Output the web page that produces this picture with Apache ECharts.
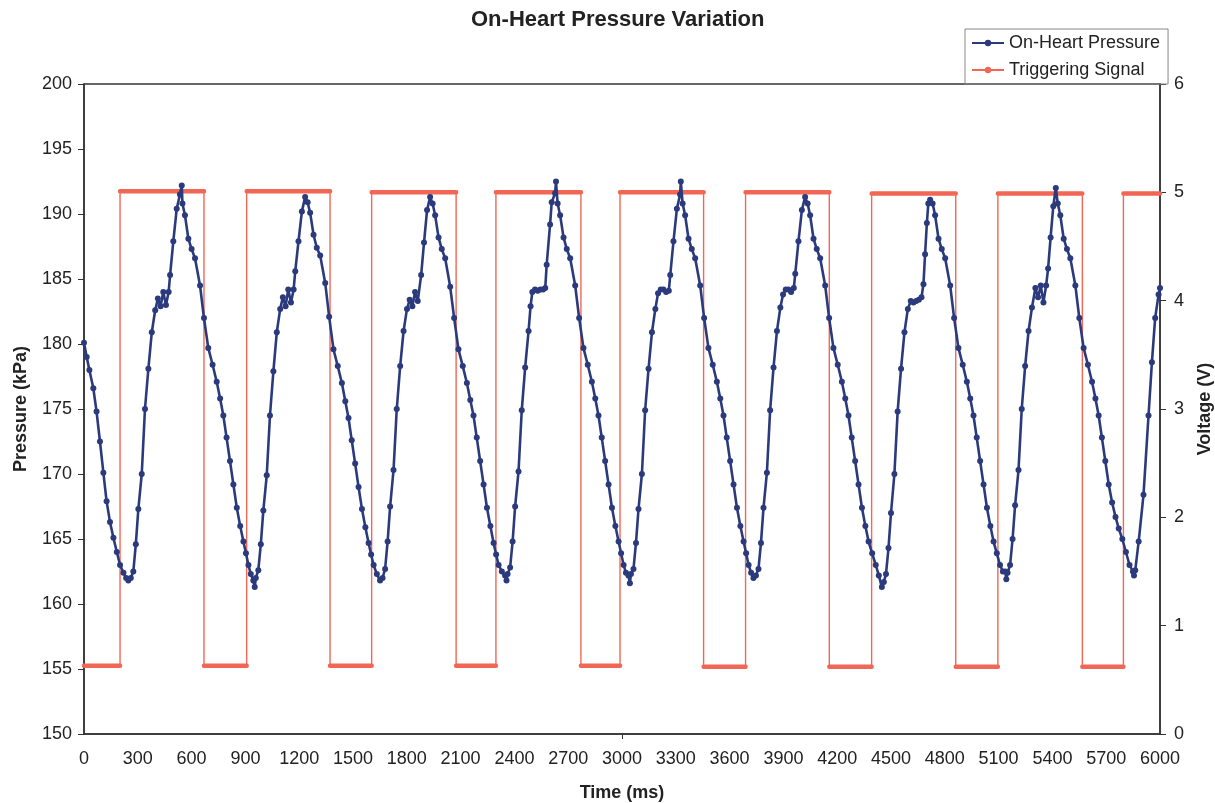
<!DOCTYPE html>
<html>
<head>
<meta charset="utf-8">
<title>On-Heart Pressure Variation</title>
<script src="https://cdn.jsdelivr.net/npm/echarts@6/dist/echarts.min.js"></script>
<style>
  html, body { margin: 0; padding: 0; background: #ffffff; }
  #chartPressure { width: 1215px; height: 803px; }
</style>
</head>
<body>
<div id="chartPressure"></div>
<script>
// pressure samples (time in ms / pressure in kPa), one row per beat
const pressureTimeMs = [
  0, 15, 30, 52, 70, 89, 108, 126, 145, 164, 183, 201, 220, 235,
  247, 261, 275, 289, 303, 322, 340, 359, 378, 397, 412, 427, 442, 457, 472,
  480, 498, 517, 535, 545, 549, 563, 582, 600, 619, 647, 669, 693, 717, 740, 759, 777, 795, 814, 833, 852, 871, 889, 903, 917, 930,
  944, 952, 958, 972, 986, 1000, 1019, 1037, 1056, 1075, 1094, 1109, 1124, 1139, 1154, 1169,
  1178, 1196, 1215, 1233, 1247, 1261, 1280, 1298, 1317, 1345, 1367, 1391, 1415, 1438, 1457, 1475, 1493, 1512, 1531, 1550, 1569, 1587, 1601, 1615, 1633,
  1651, 1665, 1679, 1693, 1707, 1726, 1744, 1763, 1782, 1801, 1816, 1831, 1846, 1861,
  1880, 1896, 1913, 1930, 1944, 1958, 1977, 1995, 2014, 2042, 2064, 2088, 2112, 2135, 2154, 2172, 2190, 2209, 2228, 2247, 2266, 2284, 2298, 2312, 2330,
  2348, 2356, 2362, 2376, 2390, 2404, 2423, 2441, 2460, 2479, 2490, 2500, 2515, 2530, 2545, 2560, 2572,
  2580, 2599, 2608, 2627, 2632, 2641, 2655, 2674, 2692, 2711, 2739, 2761, 2785, 2809, 2832, 2851, 2869, 2887, 2906, 2925, 2944, 2963, 2981, 2995, 3009, 3022,
  3036, 3044, 3050, 3064, 3078, 3092, 3111, 3129, 3148, 3167, 3186, 3201, 3216, 3231, 3246, 3261,
  3269, 3287, 3306, 3324, 3328, 3338, 3352, 3371, 3389, 3408, 3436, 3458, 3482, 3506, 3529, 3548, 3566, 3584, 3603, 3622, 3641, 3660, 3678, 3692, 3706, 3720,
  3733, 3747, 3761, 3775, 3789, 3808, 3826, 3845, 3864, 3883, 3898, 3913, 3928, 3943, 3958,
  3966, 3984, 4003, 4021, 4035, 4049, 4068, 4086, 4105, 4133, 4155, 4179, 4203, 4226, 4245, 4263, 4281, 4300, 4319, 4338, 4357, 4375, 4395, 4415, 4432,
  4449, 4460, 4472, 4486, 4500, 4519, 4537, 4556, 4575, 4594, 4610, 4625, 4640, 4655, 4670,
  4681, 4690, 4700, 4708, 4718, 4732, 4746, 4765, 4783, 4802, 4830, 4852, 4876, 4900, 4923, 4942, 4960, 4978, 4997, 5016, 5035, 5054, 5072, 5090, 5108, 5124,
  5137, 5143, 5150, 5164, 5178, 5192, 5211, 5229, 5248, 5267, 5286, 5305, 5320, 5335, 5350, 5365,
  5376, 5390, 5405, 5419, 5430, 5444, 5463, 5481, 5500, 5528, 5550, 5574, 5598, 5621, 5640, 5658, 5676, 5695, 5714, 5733, 5752, 5770, 5790, 5810, 5830,
  5849, 5855, 5862, 5881, 5908, 5936, 5955, 5973, 5992, 6000
]
const pressureKPa = [
  180.1, 179.0, 178.0, 176.6, 174.8, 172.5, 170.1, 167.9, 166.3, 165.1, 164.0, 163.0, 162.4, 162.0,
  161.8, 162.0, 162.5, 164.6, 167.3, 170.0, 175.0, 178.1, 180.9, 182.6, 183.5, 182.9, 184.0, 183.0, 184.0,
  185.3, 187.9, 190.4, 191.5, 192.2, 190.8, 189.9, 188.1, 187.3, 186.6, 184.5, 182.0, 179.7, 178.4, 177.1, 175.8, 174.5, 172.8, 171.0, 169.2, 167.4, 166.0, 164.8, 163.9, 163.0, 162.3,
  161.8, 161.3, 162.0, 162.6, 164.6, 167.2, 169.9, 174.5, 177.9, 180.9, 182.7, 183.6, 182.9, 184.2, 183.2, 184.2,
  185.6, 187.9, 190.2, 191.3, 190.9, 190.1, 188.4, 187.4, 186.8, 184.7, 182.1, 179.6, 178.3, 177.0, 175.6, 174.3, 172.6, 170.8, 169.0, 167.3, 165.9, 164.7, 163.8, 163.0, 162.3,
  161.8, 162.0, 162.7, 164.8, 167.5, 170.3, 175.0, 178.3, 181.0, 182.7, 183.4, 182.9, 184.0, 183.3,
  185.3, 187.8, 190.3, 191.3, 190.8, 189.9, 188.2, 187.3, 186.6, 184.4, 182.0, 179.6, 178.3, 177.0, 175.7, 174.5, 172.8, 171.0, 169.2, 167.4, 166.0, 164.7, 163.8, 163.0, 162.5,
  162.2, 161.8, 162.3, 162.8, 164.8, 167.5, 170.2, 174.9, 178.2, 181.0, 182.9, 184.0, 184.2, 184.1, 184.2, 184.2, 184.3,
  186.1, 189.2, 190.9, 191.6, 192.5, 190.8, 189.9, 188.2, 187.3, 186.6, 184.5, 182.0, 179.7, 178.4, 177.1, 175.8, 174.5, 172.8, 171.0, 169.2, 167.4, 166.0, 164.8, 163.9, 163.0, 162.4,
  162.2, 161.6, 162.3, 162.7, 164.7, 167.3, 170.0, 174.9, 178.1, 180.9, 182.7, 183.9, 184.2, 184.2, 184.0, 184.1,
  185.3, 187.9, 190.4, 191.5, 192.5, 190.8, 189.9, 188.1, 187.3, 186.6, 184.5, 182.0, 179.7, 178.4, 177.1, 175.8, 174.5, 172.8, 171.0, 169.2, 167.4, 166.0, 164.8, 163.9, 163.0, 162.4,
  162.0, 162.2, 162.7, 164.7, 167.4, 170.1, 174.9, 178.2, 181.0, 182.8, 183.8, 184.2, 184.2, 184.0, 184.3,
  185.4, 187.9, 190.3, 191.3, 190.8, 189.9, 188.1, 187.3, 186.6, 184.5, 182.0, 179.7, 178.4, 177.1, 175.8, 174.5, 172.8, 171.0, 169.2, 167.4, 166.0, 164.8, 163.9, 163.0, 162.2,
  161.3, 161.7, 162.3, 164.3, 167.0, 170.0, 174.8, 178.1, 180.9, 182.7, 183.3, 183.2, 183.3, 183.4, 183.6,
  184.6, 186.9, 189.3, 190.8, 191.1, 190.8, 189.9, 188.1, 187.3, 186.6, 184.5, 182.0, 179.7, 178.4, 177.1, 175.8, 174.5, 172.8, 171.0, 169.2, 167.4, 166.0, 164.8, 163.9, 163.0, 162.5,
  162.5, 161.9, 162.4, 163.0, 165.0, 167.6, 170.3, 175.0, 178.3, 181.0, 182.8, 184.3, 183.6, 184.5, 183.2, 184.5,
  185.8, 188.2, 190.6, 192.0, 190.8, 189.9, 188.1, 187.3, 186.6, 184.5, 182.0, 179.7, 178.4, 177.1, 175.8, 174.5, 172.8, 171.0, 169.2, 167.8, 166.7, 165.8, 165.0, 164.0, 163.0,
  162.5, 162.2, 162.6, 164.8, 168.4, 174.5, 178.6, 182.0, 183.8, 184.3
]
// trigger square wave: switching times (ms) and the voltage held between them
const triggerEdgesMs = [0, 201, 669, 907, 1372, 1604, 2075, 2297, 2771, 2989, 3455, 3689, 4156, 4392, 4861, 5096, 5567, 5796, 6000]
const triggerLevelsV = [0.63, 5.01, 0.63, 5.01, 0.63, 5.0, 0.63, 5.0, 0.63, 5.0, 0.62, 5.0, 0.62, 4.99, 0.62, 4.99, 0.62, 4.99]
const timeTicks = [0, 6000, 300]
const pressureTicks = [150, 200, 5]
const voltageTicks = [0, 6, 1]

const blue = '#2b3a7d'
const red = '#f26654'
const fontName = '"Liberation Sans", Arial, sans-serif'

var pressureData = []
for (var i = 0; i < pressureTimeMs.length; i++) {
  pressureData.push([pressureTimeMs[i], pressureKPa[i]])
}
// full square wave (thin) and the flat parts only (thick, like the packed markers)
var triggerData = []
var triggerFlats = []
for (var j = 0; j < triggerLevelsV.length; j++) {
  triggerData.push([triggerEdgesMs[j], triggerLevelsV[j]])
  triggerData.push([triggerEdgesMs[j + 1], triggerLevelsV[j]])
  triggerFlats.push([triggerEdgesMs[j], triggerLevelsV[j]])
  triggerFlats.push([triggerEdgesMs[j + 1], triggerLevelsV[j]])
  triggerFlats.push([triggerEdgesMs[j + 1], null])
}

var axisText = { color: '#222', fontSize: 18, fontFamily: fontName }
var nameText = { color: '#222', fontSize: 18, fontWeight: 'bold', fontFamily: fontName }
var axisLine = { show: true, lineStyle: { color: '#333', width: 1.5 } }

var option = {
  animation: false,
  backgroundColor: '#ffffff',
  title: {
    text: 'On-Heart Pressure Variation',
    left: 466,
    top: 4,
    textStyle: { color: '#222', fontSize: 22, fontWeight: 'bold', fontFamily: fontName }
  },
  legend: {
    data: ['On-Heart Pressure', 'Triggering Signal'],
    orient: 'vertical',
    left: 965,
    top: 29,
    padding: [5, 8, 5, 6],
    itemGap: 9,
    itemWidth: 32,
    itemHeight: 8,
    borderColor: '#888',
    borderWidth: 1,
    textStyle: { color: '#222', fontSize: 18, fontFamily: fontName }
  },
  grid: {
    left: 84,
    right: 55,
    top: 84,
    bottom: 69,
    containLabel: false,
    outerBoundsMode: 'none',
    show: true,
    borderColor: '#333',
    borderWidth: 1.5
  },
  xAxis: {
    type: 'value',
    min: timeTicks[0],
    max: timeTicks[1],
    interval: timeTicks[2],
    name: 'Time (ms)',
    nameLocation: 'middle',
    nameGap: 50,
    nameTextStyle: nameText,
    axisLine: axisLine,
    axisTick: { show: true, customValues: [3000], length: 5, lineStyle: { color: '#333' } },
    axisLabel: Object.assign({ margin: 16, formatter: (v) => String(v) }, axisText),
    splitLine: { show: false }
  },
  yAxis: [
    {
      type: 'value',
      min: pressureTicks[0],
      max: pressureTicks[1],
      interval: pressureTicks[2],
      name: 'Pressure (kPa)',
      nameLocation: 'middle',
      nameRotate: 90,
      nameGap: 54,
      nameTextStyle: nameText,
      axisLine: axisLine,
      axisTick: { show: true, length: 6, lineStyle: { color: '#333' } },
      axisLabel: Object.assign({ margin: 12 }, axisText),
      splitLine: { show: false }
    },
    {
      type: 'value',
      position: 'right',
      min: voltageTicks[0],
      max: voltageTicks[1],
      interval: voltageTicks[2],
      name: 'Voltage (V)',
      nameLocation: 'middle',
      nameRotate: 90,
      nameGap: 36,
      nameTextStyle: nameText,
      axisLine: axisLine,
      axisTick: { show: true, length: 6, lineStyle: { color: '#333' } },
      axisLabel: Object.assign({ margin: 14 }, axisText),
      splitLine: { show: false }
    }
  ],
  series: [
    {
      name: 'On-Heart Pressure',
      type: 'line',
      yAxisIndex: 0,
      data: pressureData,
      z: 4,
      symbol: 'circle',
      symbolSize: 6,
      showAllSymbol: true,
      itemStyle: { color: blue },
      lineStyle: { color: blue, width: 2.6 }
    },
    {
      name: 'Triggering Signal',
      type: 'line',
      yAxisIndex: 1,
      data: triggerData,
      z: 2,
      symbol: 'circle',
      symbolSize: 3,
      showAllSymbol: true,
      itemStyle: { color: red },
      lineStyle: { color: red, width: 1.4 }
    },
    {
      name: 'trigger-flats',
      type: 'line',
      yAxisIndex: 1,
      data: triggerFlats,
      z: 2,
      silent: true,
      symbol: 'none',
      connectNulls: false,
      lineStyle: { color: red, width: 4.5, cap: 'round' }
    }
  ]
}

var myChart = echarts.init(document.getElementById('chartPressure'))
myChart.setOption(option)
window.addEventListener('resize', () => {
  myChart.resize()
})
</script>
</body>
</html>
